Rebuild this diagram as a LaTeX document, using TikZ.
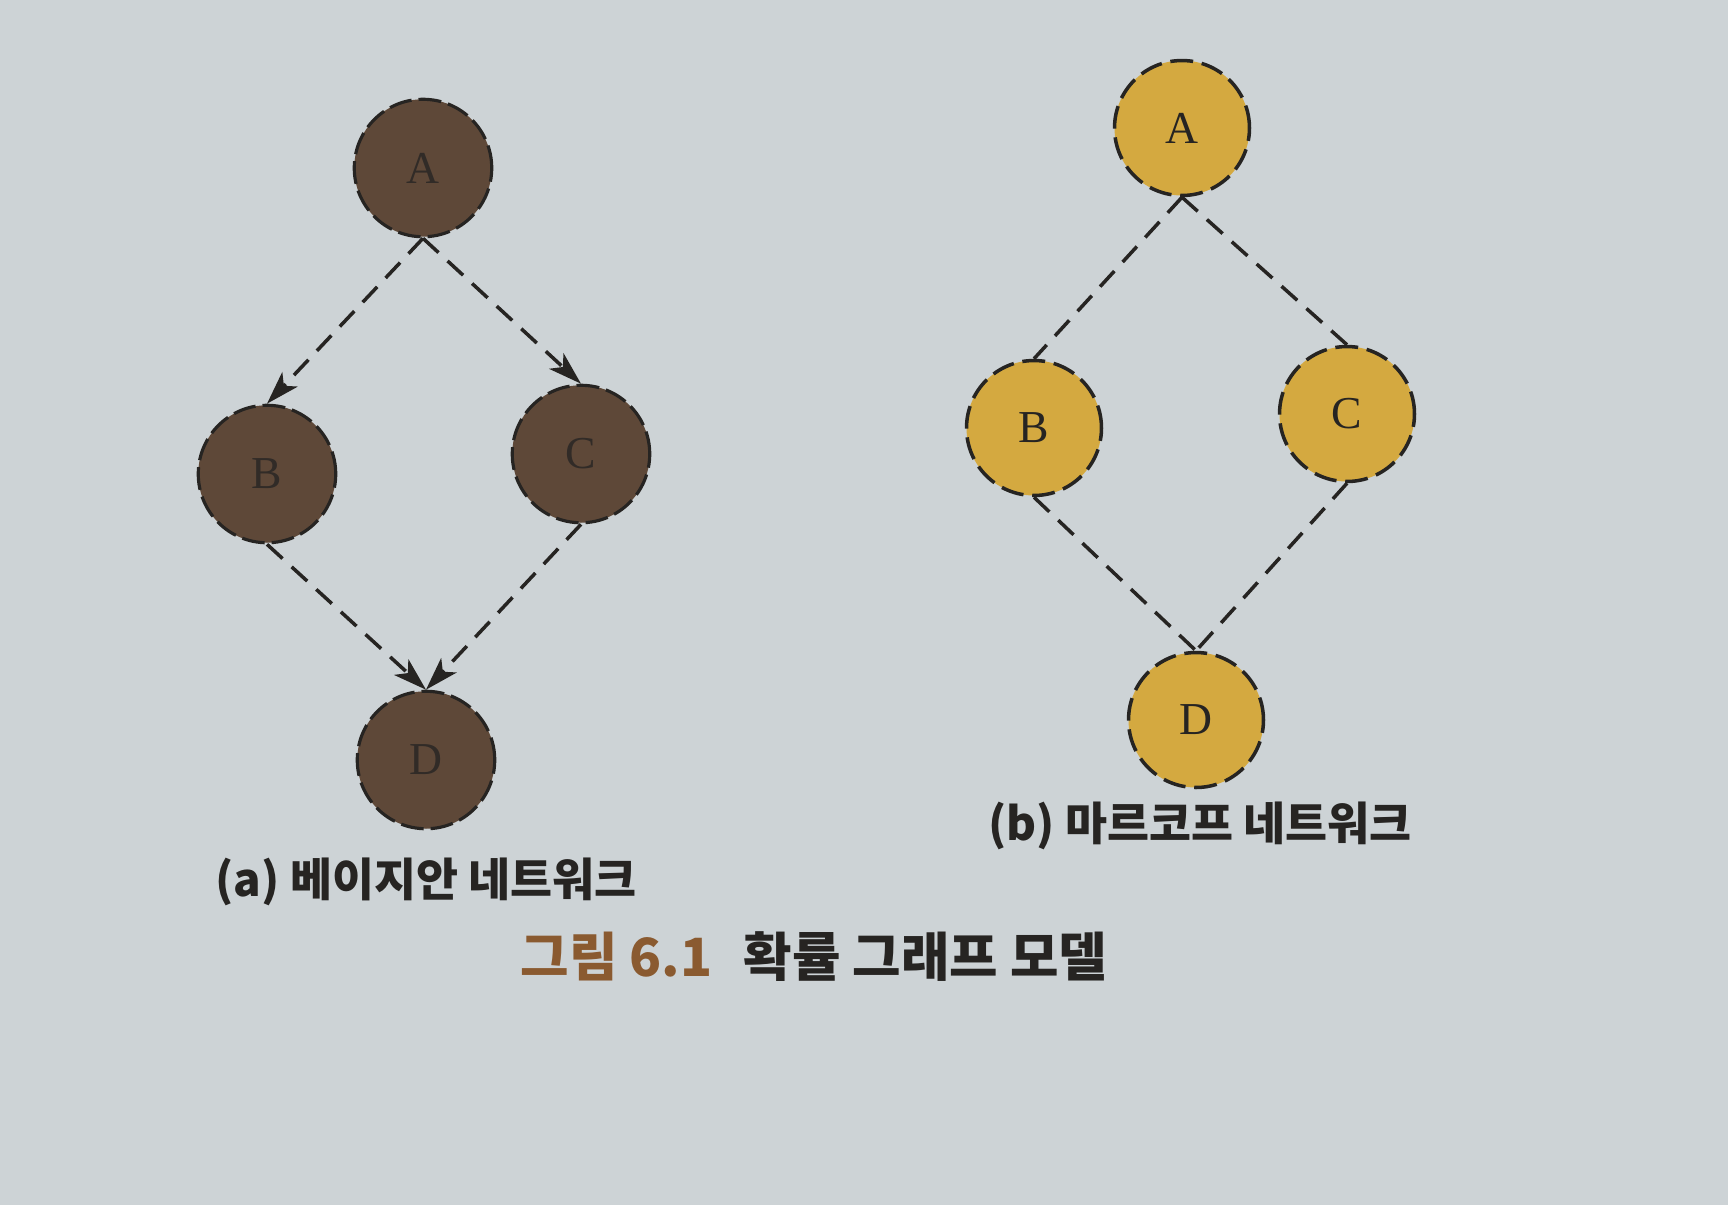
\documentclass[tikz,border=0pt]{standalone}
\usepackage{fontspec}
\usepackage{xcolor}
\usepackage{tikz}
\usetikzlibrary{arrows.meta}
\setmainfont{Liberation Serif}
\newfontfamily\krfont{Noto Sans CJK KR}
\definecolor{paper}{HTML}{CDD3D6}
\definecolor{bayesfill}{HTML}{5E4838}
\definecolor{markovfill}{HTML}{D4A940}
\definecolor{inkdark}{HTML}{262422}
\definecolor{figbrown}{HTML}{8A5A30}
\tikzset{
  bnode/.style={circle, minimum size=2.75cm, inner sep=0pt, fill=bayesfill,
    draw=inkdark, line width=1.8pt, dash pattern=on 13pt off 4pt,
    text=inkdark!80!bayesfill, font=\fontsize{26}{26}\selectfont},
  mnode/.style={circle, minimum size=2.7cm, inner sep=0pt, fill=markovfill,
    draw=inkdark, line width=2pt, dash pattern=on 13pt off 5pt,
    text=inkdark, font=\fontsize{26}{26}\selectfont},
  edge/.style={draw=inkdark, line width=2pt, dash pattern=on 12pt off 7pt},
  arc/.style={edge, -{Stealth[length=19pt,width=12pt,inset=5pt]}},
  caption/.style={text=inkdark, font=\krfont\bfseries\fontsize{26}{26}\selectfont}
}
\begin{document}
\begin{tikzpicture}[x=0.02cm,y=-0.02cm]
  \useasboundingbox (0,0) rectangle (1728,1205);
  \fill[paper] (0,0) rectangle (1728,1205);
  % (a) Bayesian network
  \node[bnode] (ba) at (423,168) {A};
  \node[bnode] (bb) at (267,474) {B};
  \node[bnode] (bc) at (581,454) {C};
  \node[bnode] (bd) at (426,760) {D};
  \draw[arc] (ba.south) -- (bb.north);
  \draw[arc] (ba.south) -- (bc.north);
  \draw[arc] (bb.south) -- (bd.north);
  \draw[arc] (bc.south) -- (bd.north);
  % (b) Markov network
  \node[mnode] (ma) at (1182,128) {A};
  \node[mnode] (mb) at (1034,428) {B};
  \node[mnode] (mc) at (1347,414) {C};
  \node[mnode] (md) at (1196,720) {D};
  \draw[edge] (ma.south) -- (mb.north);
  \draw[edge] (ma.south) -- (mc.north);
  \draw[edge] (mb.south) -- (md.north);
  \draw[edge] (mc.south) -- (md.north);
  % captions
  \node[caption] (capa) at (426,882) {(a) 베이지안 네트워크};
  \node[caption] (capb) at (1200,826) {(b) 마르코프 네트워크};
  \node[caption, font=\krfont\bfseries\fontsize{30}{30}\selectfont] (title) at (814,957)
    {\textcolor{figbrown}{그림 6.1}\hspace{0.6em}확률 그래프 모델};
\end{tikzpicture}
\end{document}
